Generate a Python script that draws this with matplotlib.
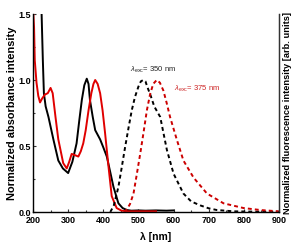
import matplotlib
matplotlib.use("Agg")
import matplotlib.pyplot as plt
from matplotlib.ticker import MultipleLocator

plt.rcParams['font.family'] = ['Liberation Sans', 'DejaVu Sans']
plt.rcParams['mathtext.fontset'] = 'custom'
plt.rcParams['mathtext.rm'] = 'Liberation Sans'
plt.rcParams['mathtext.it'] = 'Liberation Sans:italic'

# Absorbance (black, lambda_exc 350)
abs_black_x = [224, 226, 228, 231, 236, 244, 258, 272, 285, 300, 312, 324, 332, 339, 346, 353,
               358, 362, 370, 377, 391, 400, 410, 420, 429, 443, 455, 467, 480, 500, 520, 550, 580, 600]
abs_black_y = [1.55, 1.35, 1.15, 0.90, 0.80, 0.72, 0.55, 0.39, 0.33, 0.295, 0.38, 0.52, 0.70, 0.85, 0.96, 1.01,
               0.97, 0.85, 0.72, 0.62, 0.55, 0.49, 0.42, 0.30, 0.19, 0.066, 0.03, 0.015, 0.01, 0.012, 0.01, 0.012, 0.01, 0.012]

# Absorbance (red, lambda_exc 375)
abs_red_x = [200, 203, 205, 210, 215, 220, 226, 234, 242, 250, 256, 264, 272, 286, 296, 303, 310,
             320, 329, 336, 343, 350, 358, 366, 372, 377, 384, 391, 398, 405, 415, 424, 438, 452, 467, 500, 550]
abs_red_y = [1.55, 1.40, 1.15, 0.98, 0.88, 0.83, 0.86, 0.89, 0.90, 0.94, 0.90, 0.72, 0.55, 0.37, 0.33, 0.38, 0.44,
             0.43, 0.42, 0.46, 0.52, 0.62, 0.77, 0.90, 0.97, 1.00, 0.97, 0.90, 0.77, 0.60, 0.34, 0.12, 0.03, 0.01, 0.005, 0.005, 0.005]

# Fluorescence (black dashed)
fl_black_x = [420, 430, 443, 452, 462, 472, 481, 490, 500, 507, 514, 520, 525, 535, 545, 562, 581, 600,
              628, 650, 676, 700, 723, 771, 820, 900]
fl_black_y = [0.0, 0.05, 0.19, 0.33, 0.49, 0.64, 0.77, 0.87, 0.95, 0.99, 1.0, 0.99, 0.95, 0.88, 0.80, 0.72, 0.47, 0.29,
              0.14, 0.08, 0.05, 0.028, 0.015, 0.005, 0.003, 0.002]

# Fluorescence (red dashed)
fl_red_x = [460, 467, 476, 486, 495, 505, 515, 524, 533, 542, 552, 561, 571, 580, 590, 609, 628, 657,
            695, 742, 799, 847, 899]
fl_red_y = [0.0, 0.02, 0.06, 0.14, 0.28, 0.44, 0.61, 0.77, 0.89, 0.97, 1.0, 0.98, 0.92, 0.83, 0.72, 0.55, 0.39, 0.26,
            0.14, 0.066, 0.03, 0.015, 0.005]

xticks = [200, 300, 400, 500, 600, 700, 800, 900]
yticks = [0.0, 0.5, 1.0, 1.5]

fig = plt.figure(figsize=(3.01, 2.47), dpi=100)
ax = fig.add_axes([33/301, 1 - 212/247, (279-33)/301, (212-14)/247])

ax.plot(abs_black_x, abs_black_y, color='black', lw=1.4)
ax.plot(abs_red_x, abs_red_y, color='#e00000', lw=1.4)
ax.plot(fl_black_x, fl_black_y, color='black', lw=1.4, ls=(0, (2.0, 1.6)))
ax.plot(fl_red_x, fl_red_y, color='#cc0000', lw=1.4, ls=(0, (2.0, 1.6)))

ax.set_xlim(200, 900)
ax.set_ylim(0, 1.5)
ax.set_xticks(xticks)
ax.set_yticks(yticks)
ax.set_yticklabels(['0.0', '0.5', '1.0', '1.5'])
ax.xaxis.set_minor_locator(MultipleLocator(50))
ax.yaxis.set_minor_locator(MultipleLocator(0.25))
ax.tick_params(which='both', direction='in', labelsize=6.5, width=0.8, color='#333333')
ax.tick_params(which='major', length=2.5)
ax.tick_params(which='minor', length=1.5)
for lab in ax.get_xticklabels() + ax.get_yticklabels():
    lab.set_fontweight('bold')
ax.tick_params(axis='x', pad=3)
ax.tick_params(axis='y', pad=1.5)

ax.spines['top'].set_visible(False)
for s in ['left', 'bottom', 'right']:
    ax.spines[s].set_linewidth(1.0)
    ax.spines[s].set_color('#333333')

ax.set_xlabel('λ [nm]', fontsize=7.5, fontweight='bold', labelpad=5)
ax.set_ylabel('Normalized absorbance intensity', fontsize=7.9, fontweight='bold', labelpad=1)

ax2 = ax.twinx()
ax2.set_ylim(0, 1.5)
ax2.set_yticks([])
ax2.spines['top'].set_visible(False)
ax2.spines['right'].set_color('#333333')
ax2.set_ylabel('Normalized fluorescence intensity [arb. units]', fontsize=6.7, fontweight='bold', labelpad=3)

ax.text(476, 1.075, r'$\lambda_{\rm exc}$= 350 nm', fontsize=5.5, color='#222222', va='center', ha='left')
ax.text(600, 0.935, r'$\lambda_{\rm exc}$= 375 nm', fontsize=5.5, color='#cc2222', va='center', ha='left')

fig.savefig('out.png', dpi=100)
